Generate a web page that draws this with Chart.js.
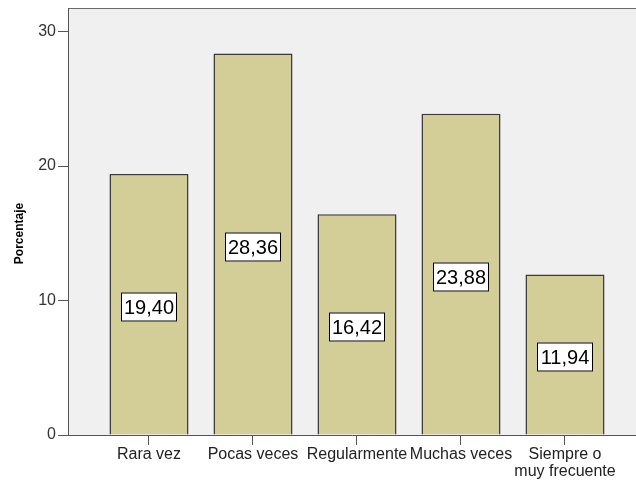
<!DOCTYPE html>
<html>
<head>
<meta charset="utf-8">
<script src="https://cdn.jsdelivr.net/npm/chart.js@4/dist/chart.umd.min.js"></script>
<style>
  html, body { margin: 0; padding: 0; background: #ffffff; }
  #wrap { width: 636px; height: 485px; }
</style>
</head>
<body>
<div id="wrap"><canvas id="c" width="636" height="485"></canvas></div>
<script>
// Frecuencia de respuesta (porcentaje)
const categories = ['Rara vez', 'Pocas veces', 'Regularmente', 'Muchas veces', ['Siempre o', 'muy frecuente']];
const percentages = [19.40, 28.36, 16.42, 23.88, 11.94];
const yTicks = [0, 10, 20, 30];
const yTitle = 'Porcentaje';

const FONT = '"Liberation Sans", Arial, sans-serif';

// Gray plot background plus top frame line
const plotBackground = {
  id: 'plotBackground',
  beforeDraw(chart) {
    const { ctx, chartArea: a } = chart;
    ctx.save();
    ctx.fillStyle = '#f0f0f0';
    ctx.fillRect(a.left, a.top, a.right - a.left, a.bottom - a.top);
    ctx.strokeStyle = '#6a6a6a';
    ctx.lineWidth = 1;
    ctx.beginPath();
    ctx.moveTo(a.left, a.top + 0.5);
    ctx.lineTo(a.right, a.top + 0.5);
    ctx.stroke();
    ctx.restore();
  }
};

// Vertical axis title, set a little below the axis midpoint
const axisTitle = {
  id: 'axisTitle',
  afterDraw(chart) {
    const { ctx, chartArea: a } = chart;
    ctx.save();
    ctx.translate(20, (a.top + a.bottom) / 2 + 12);
    ctx.rotate(-Math.PI / 2);
    ctx.font = 'bold 12px ' + FONT;
    ctx.fillStyle = '#000000';
    ctx.textAlign = 'center';
    ctx.textBaseline = 'middle';
    ctx.fillText(yTitle, 0, 0);
    ctx.restore();
  }
};

// Boxed value labels in the middle of each bar
const valueBoxes = {
  id: 'valueBoxes',
  afterDatasetsDraw(chart) {
    const { ctx } = chart;
    const meta = chart.getDatasetMeta(0);
    ctx.save();
    ctx.font = '20px ' + FONT;
    ctx.textAlign = 'center';
    ctx.textBaseline = 'middle';
    meta.data.forEach((bar, i) => {
      const txt = percentages[i].toFixed(2).replace('.', ',');
      const cx = Math.round(bar.x);
      const cy = Math.round((bar.y + bar.base) / 2) + 3;
      const w = 56, h = 29;
      const x0 = cx - w / 2, y0 = cy - h / 2;
      ctx.fillStyle = '#ffffff';
      ctx.fillRect(x0, y0, w, h);
      ctx.strokeStyle = '#000000';
      ctx.lineWidth = 1;
      ctx.strokeRect(x0 + 0.5, y0 + 0.5, w - 1, h - 1);
      ctx.fillStyle = '#000000';
      ctx.fillText(txt, cx, cy + 1);
    });
    ctx.restore();
  }
};

function noScalePadding(scale) {
  scale.paddingTop = 0;
  scale.paddingBottom = 0;
  scale.paddingLeft = 0;
  scale.paddingRight = 0;
}

new Chart(document.getElementById('c'), {
  type: 'bar',
  data: {
    datasets: [{
      data: percentages.map((v, i) => ({ x: i, y: v })),
      backgroundColor: '#d3ce97',
      borderColor: '#3a3a3a',
      borderWidth: 1.5,
      barPercentage: 0.76,
      categoryPercentage: 1
    }]
  },
  options: {
    responsive: false,
    animation: false,
    devicePixelRatio: 1,
    layout: { padding: { top: 8, right: 0, bottom: 0, left: 0 } },
    plugins: { legend: { display: false }, tooltip: { enabled: false } },
    scales: {
      x: {
        type: 'linear',
        offset: false,
        min: -0.7788,
        max: 4.6827,
        afterBuildTicks(scale) { scale.ticks = categories.map((_, i) => ({ value: i })); },
        afterFit(scale) { scale.height = 50; noScalePadding(scale); },
        ticks: {
          autoSkip: false,
          maxRotation: 0,
          minRotation: 0,
          padding: 1,
          color: '#222222',
          font: { family: FONT, size: 16, lineHeight: 1.05 },
          callback: (v) => categories[v]
        },
        grid: { offset: false, drawOnChartArea: false, drawTicks: true, tickLength: 10, color: '#555555' },
        border: { color: '#555555', width: 1 }
      },
      y: {
        min: 0,
        max: 31.75,
        afterBuildTicks(scale) { scale.ticks = yTicks.map(v => ({ value: v })); },
        afterFit(scale) { scale.width = 68; noScalePadding(scale); },
        ticks: {
          padding: 2,
          color: '#333333',
          font: { family: FONT, size: 16 }
        },
        title: { display: false },
        grid: { drawOnChartArea: false, drawTicks: true, tickLength: 10, color: '#555555' },
        border: { color: '#555555', width: 1 }
      }
    }
  },
  plugins: [plotBackground, valueBoxes, axisTitle]
});
</script>
</body>
</html>
